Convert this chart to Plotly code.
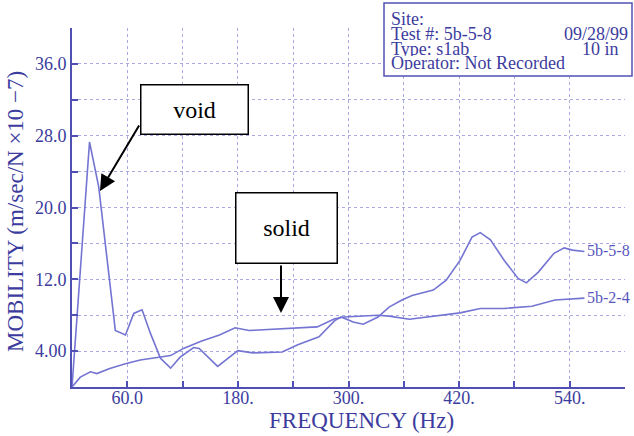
import plotly.graph_objects as go

# Mobility spectra for the two slab tests
freq_558 = [0, 19, 29, 47, 58, 67, 76, 85, 96, 107, 117, 132, 138, 158, 180, 196, 228,
            245, 268, 285, 292, 305, 316, 332, 344, 358, 369, 392, 406, 421, 434, 443,
            454, 469, 484, 493, 506, 523, 534, 543, 556]
mob_558 = [0, 27.3, 22.3, 6.3, 5.8, 8.2, 8.6, 6.0, 3.2, 2.1, 3.3, 4.4, 4.3, 2.3, 4.05,
           3.8, 3.9, 4.7, 5.6, 7.4, 7.8, 7.25, 7.0, 7.8, 8.9, 9.7, 10.2, 10.8, 11.9,
           14.1, 16.7, 17.2, 16.4, 14.1, 12.1, 11.6, 12.8, 14.9, 15.5, 15.25, 15.1]

freq_224 = [0, 9, 20, 27, 41, 58, 74, 107, 121, 140, 160, 177, 192, 210, 237, 260, 266,
            285, 295, 332, 344, 366, 395, 421, 443, 469, 499, 524, 556]
mob_224 = [0, 1.1, 1.7, 1.5, 2.05, 2.6, 3.0, 3.5, 4.3, 5.1, 5.8, 6.6, 6.3, 6.4, 6.6,
           6.7, 6.7, 7.6, 7.8, 8.0, 7.9, 7.55, 7.9, 8.26, 8.75, 8.75, 9.0, 9.7, 9.9]

series_names = ["5b-5-8", "5b-2-4"]

x_tickvals = [60, 180, 300, 420, 540]
x_ticktext = ["60.0", "180.", "300.", "420.", "540."]
y_tickvals = [4, 12, 20, 28, 36]
y_ticktext = ["4.00", "12.0", "20.0", "28.0", "36.0"]

info_lines = ["Site:", "Test #: 5b-5-8", "Type: s1ab", "Operator: Not Recorded"]
info_date = "09/28/99"
info_depth = "10 in"

SERIF = "Liberation Serif, Times New Roman, DejaVu Serif, serif"
TEXT_BLUE = "#3c3c9e"
AXIS_BLUE = "#5050b4"
LINE_BLUE = "#7474d2"
GRID_BLUE = "#aaaae2"

W, H = 634, 436
M_L, M_R, M_T, M_B = 72, 9, 28, 49


def px(xp):
    return (xp - M_L) / (W - M_L - M_R)


def py(yp):
    return (H - M_B - yp) / (H - M_T - M_B)


fig = go.Figure()
for f, m, name in [(freq_558, mob_558, series_names[0]), (freq_224, mob_224, series_names[1])]:
    fig.add_trace(go.Scatter(x=f, y=m, mode="lines", name=name,
                             line=dict(color=LINE_BLUE, width=1.6), showlegend=False))
    fig.add_annotation(x=f[-1], y=m[-1], text=name, showarrow=False, xanchor="left",
                       yanchor="middle", xshift=1, yshift=1,
                       font=dict(family=SERIF, size=16, color="#5656bc"))

axis_common = dict(showline=True, linecolor=AXIS_BLUE, linewidth=2, ticks="inside",
                   ticklen=6, tickcolor=AXIS_BLUE, tickwidth=1.5, showgrid=True,
                   gridcolor=GRID_BLUE, griddash="dot", gridwidth=1, zeroline=False,
                   tickfont=dict(family=SERIF, size=18, color=TEXT_BLUE))

fig.update_xaxes(range=[0, 600], tickvals=x_tickvals, ticktext=x_ticktext,
                 ticklabelstandoff=-7,
                 minor=dict(dtick=60, tick0=0, ticks="inside", ticklen=6,
                            tickcolor=AXIS_BLUE, showgrid=True, gridcolor=GRID_BLUE,
                            griddash="dot"),
                 **axis_common)
fig.update_yaxes(range=[0, 40], tickvals=y_tickvals, ticktext=y_ticktext,
                 minor=dict(dtick=4, tick0=0, ticks="inside", ticklen=6,
                            tickcolor=AXIS_BLUE, showgrid=True, gridcolor=GRID_BLUE,
                            griddash="dot"),
                 **axis_common)

# Axis titles
fig.add_annotation(xref="paper", yref="paper", x=px(361), y=py(421), text="FREQUENCY (Hz)",
                   showarrow=False, xanchor="center", yanchor="middle",
                   font=dict(family=SERIF, size=23, color=TEXT_BLUE))
fig.add_annotation(xref="paper", yref="paper", x=px(15), y=py(212),
                   text="MOBILITY (m/sec/N \u00d710 \u22127)", textangle=-90,
                   showarrow=False, xanchor="center", yanchor="middle",
                   font=dict(family=SERIF, size=23, color=TEXT_BLUE))

# Header box with test information
fig.add_shape(type="rect", xref="paper", yref="paper", x0=px(384), x1=px(632),
              y0=py(76), y1=py(3), line=dict(color=AXIS_BLUE, width=1.5),
              fillcolor="white", layer="above")
for i, line in enumerate(info_lines):
    fig.add_annotation(xref="paper", yref="paper", x=px(389), y=py(19.5 + 14.6 * i),
                       text=line, showarrow=False, xanchor="left", yanchor="middle",
                       height=14, font=dict(family=SERIF, size=18, color=TEXT_BLUE))
fig.add_annotation(xref="paper", yref="paper", x=px(630), y=py(34), text=info_date,
                   showarrow=False, xanchor="right", yanchor="middle", height=14,
                   font=dict(family=SERIF, size=18, color=TEXT_BLUE))
fig.add_annotation(xref="paper", yref="paper", x=px(600), y=py(48.6), text=info_depth,
                   showarrow=False, xanchor="center", yanchor="middle", height=14,
                   font=dict(family=SERIF, size=18, color=TEXT_BLUE))

# Callout boxes
for label, cx, cy, w, h in [("void", 194.5, 109, 106, 48), ("solid", 286.5, 228, 100, 69)]:
    fig.add_annotation(xref="paper", yref="paper", x=px(cx), y=py(cy), text=label,
                       showarrow=False, width=w, height=h, xanchor="center",
                       yanchor="middle", bgcolor="white", bordercolor="black",
                       borderwidth=1.5, borderpad=0,
                       font=dict(family=SERIF, size=24, color="black"))

# Callout arrows (tail offsets in pixels from the tip)
fig.add_annotation(xref="paper", yref="paper", x=px(100), y=py(191), ax=40, ay=-67,
                   axref="pixel", ayref="pixel", text="", showarrow=True, arrowhead=2,
                   arrowsize=1.6, arrowwidth=2, arrowcolor="black")
fig.add_annotation(xref="paper", yref="paper", x=px(281), y=py(313), ax=0, ay=-49,
                   axref="pixel", ayref="pixel", text="", showarrow=True, arrowhead=2,
                   arrowsize=1.6, arrowwidth=2, arrowcolor="black")

fig.update_layout(width=W, height=H, margin=dict(l=M_L, r=M_R, t=M_T, b=M_B),
                  plot_bgcolor="white", paper_bgcolor="white")

fig.write_html("out.html")
